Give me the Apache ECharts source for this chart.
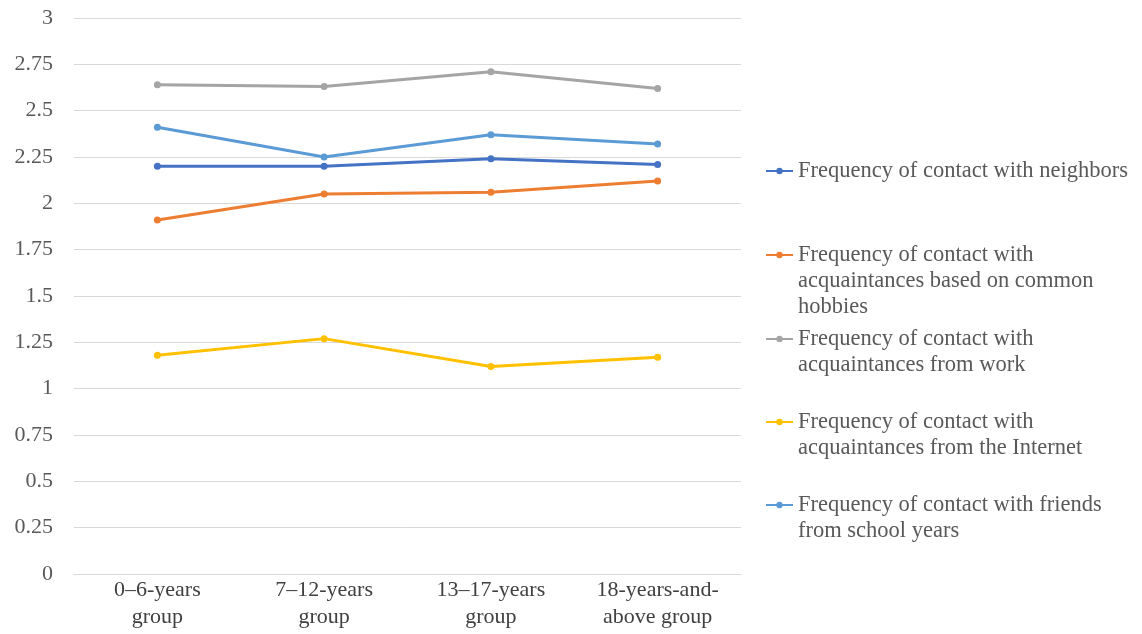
<!DOCTYPE html>
<html><head><meta charset="utf-8">
<script src="https://cdn.jsdelivr.net/npm/echarts@6/dist/echarts.min.js"></script>
<style>html,body{margin:0;padding:0;background:#fff}#c{width:1142px;height:634px}</style>
</head><body><div id="c"></div>
<script>
var categories = ['0–6-years\ngroup', '7–12-years\ngroup', '13–17-years\ngroup', '18-years-and-\nabove group'];
var seriesNames = [
  'Frequency of contact with neighbors',
  'Frequency of contact with\nacquaintances based on common\nhobbies',
  'Frequency of contact with\nacquaintances from work',
  'Frequency of contact with\nacquaintances from the Internet',
  'Frequency of contact with friends\nfrom school years'
];
var neighbors = [2.20, 2.20, 2.24, 2.21];
var hobbies = [1.91, 2.05, 2.06, 2.12];
var work = [2.64, 2.63, 2.71, 2.62];
var internet = [1.18, 1.27, 1.12, 1.17];
var school = [2.41, 2.25, 2.37, 2.32];
var yTicks = ['0','0.25','0.5','0.75','1','1.25','1.5','1.75','2','2.25','2.5','2.75','3'];

var colors = ['#4472C4', '#ED7D31', '#A5A5A5', '#FFC000', '#5B9BD5'];
var values = [neighbors, hobbies, work, internet, school];
var font = '"Liberation Serif", "Times New Roman", serif';
var legendTops = [158, 190, 300, 383, 466];
var LH = 26;

var chart = echarts.init(document.getElementById('c'), null, {renderer: 'canvas'});
var legends = seriesNames.map(function (n, i) {
  return {
    data: [n],
    orient: 'vertical',
    left: 765,
    top: legendTops[i],
    padding: 0,
    itemWidth: 27,
    itemHeight: 8,
    itemGap: 0,
    selectedMode: false,
    formatter: function (name) {
      var k = name.split('\n').length - 1;
      return new Array(k + 1).join('\n') + name;
    },
    textStyle: {fontFamily: font, fontSize: 22.5, color: '#595959', lineHeight: LH}
  };
});
chart.setOption({
  animation: false,
  color: colors,
  textStyle: {fontFamily: font},
  legend: legends,
  grid: {left: 74, right: 401, top: 18, bottom: 60, containLabel: false},
  xAxis: {
    type: 'category',
    data: categories,
    boundaryGap: true,
    axisLine: {show: true, lineStyle: {color: '#D9D9D9', width: 1}},
    axisTick: {show: false},
    axisLabel: {fontFamily: font, fontSize: 22, color: '#404040', lineHeight: 27, margin: 3, interval: 0}
  },
  yAxis: {
    type: 'value',
    min: 0, max: 3, interval: 0.25,
    axisLine: {show: false},
    axisTick: {show: false},
    splitLine: {lineStyle: {color: '#D9D9D9', width: 1}},
    axisLabel: {
      fontFamily: font, fontSize: 22, color: '#595959', margin: 21,
      formatter: function (v) { return yTicks[Math.round(v / 0.25)]; }
    }
  },
  series: seriesNames.map(function (n, i) {
    return {
      name: n,
      type: 'line',
      data: values[i],
      symbol: 'circle',
      symbolSize: 7,
      lineStyle: {width: 3, color: colors[i]},
      itemStyle: {color: colors[i]}
    };
  })
});
</script></body></html>
